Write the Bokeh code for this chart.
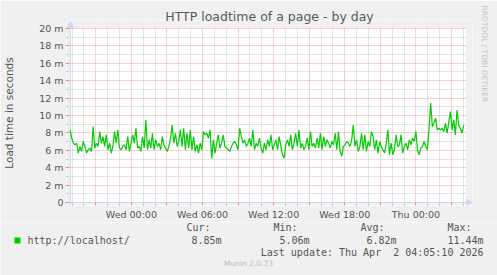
from bokeh.plotting import figure
from bokeh.layouts import column, row
from bokeh.models import FixedTicker, Label, Range1d, Title
from bokeh.embed import file_html
from bokeh.resources import INLINE

# ---------------- data ----------------
title = "HTTP loadtime of a page - by day"
y_label = "Load time in seconds"
series_name = "http://localhost/"
start_hour = -5.17          # first sample, hours relative to Wed 00:00
step_hours = 5 / 36         # sample spacing in hours
load_ms = [
    8.34, 7.39, 6.82, 6.63, 6.82, 5.68, 6.44, 5.87, 7.01, 6.44,
    5.68, 6.06, 6.25, 5.87, 8.72, 6.25, 6.82, 6.44, 8.15, 6.82,
    7.58, 6.44, 7.77, 6.06, 6.82, 5.68, 6.44, 8.15, 6.82, 8.34,
    6.25, 6.06, 6.44, 6.63, 6.06, 7.58, 5.87, 6.82, 7.77, 6.82,
    8.53, 6.25, 6.44, 5.87, 7.58, 6.25, 9.49, 6.06, 7.20, 6.25,
    7.96, 6.06, 7.20, 6.44, 6.82, 6.06, 7.58, 6.63, 6.25, 5.87,
    6.44, 7.39, 8.91, 6.82, 7.96, 6.44, 7.01, 8.34, 6.44, 8.53,
    6.06, 7.96, 6.25, 8.34, 6.06, 7.58, 5.87, 6.63, 5.68, 6.82,
    6.06, 8.15, 7.77, 7.96, 7.39, 8.34, 5.06, 7.20, 5.68, 6.82,
    7.77, 6.25, 6.82, 7.77, 6.44, 6.25, 6.06, 5.87, 6.44, 6.82,
    7.01, 6.63, 6.06, 8.53, 7.58, 6.82, 7.20, 6.44, 6.82, 7.39,
    6.44, 8.34, 6.06, 6.82, 6.44, 7.39, 6.25, 5.68, 6.82, 6.06,
    7.20, 6.44, 7.77, 6.06, 6.63, 7.20, 6.06, 7.58, 6.44, 5.49,
    5.10, 6.63, 7.20, 6.44, 7.77, 6.06, 6.82, 7.96, 6.44, 8.34,
    6.25, 6.82, 6.06, 6.44, 7.39, 6.06, 8.15, 6.44, 6.82, 6.25,
    7.39, 6.25, 7.96, 6.06, 7.58, 6.44, 7.20, 6.82, 6.25, 7.01,
    6.63, 7.96, 6.06, 8.15, 5.87, 5.30, 6.44, 6.63, 7.01, 6.82,
    6.44, 7.20, 8.91, 6.44, 7.20, 5.87, 6.44, 7.96, 6.06, 7.77,
    5.87, 7.01, 6.44, 8.15, 7.58, 6.06, 7.20, 5.68, 7.01, 6.44,
    6.06, 5.68, 6.82, 8.34, 5.49, 6.82, 5.49, 6.06, 7.77, 6.44,
    6.63, 7.77, 5.68, 6.44, 6.82, 6.06, 7.20, 6.63, 7.39, 7.01,
    8.15, 6.06, 5.49, 6.25, 6.44, 7.01, 6.44, 6.06, 8.53, 11.44,
    8.72, 9.11, 9.68, 8.34, 8.53, 8.34, 8.53, 8.15, 9.11, 7.96,
    9.30, 10.44, 8.34, 9.49, 7.77, 10.63, 8.91, 8.53, 7.96, 8.85,
]
x_label_hours = [0, 6, 12, 18, 24]
x_labels = ["Wed 00:00", "Wed 06:00", "Wed 12:00", "Wed 18:00", "Thu 00:00"]
y_major = [0, 2, 4, 6, 8, 10, 12, 14, 16, 18, 20]
y_labels = ["0", "2 m", "4 m", "6 m", "8 m", "10 m", "12 m", "14 m", "16 m", "18 m", "20 m"]
stat_names = ["Cur:", "Min:", "Avg:", "Max:"]
stat_values = ["8.85m", "5.06m", "6.82m", "11.44m"]
last_update = "Last update: Thu Apr \u00a02 04:05:10 2026"
watermark = "RRDTOOL / TOBI OETIKER"
footer = "Munin 2.0.73"

hours = [start_hour + i * step_hours for i in range(len(load_ms))]

# ---------------- styles / geometry ----------------
FONT = "DejaVu Sans"
MONO = "DejaVu Sans Mono"
TXT = "#555555"
BG = "#F0F0F0"
AXIS = "#CFD6F8"
W, H_MAIN, H_LEG = 497, 222, 53
PX_PER_H = 12.0        # x pixels per hour
PX_PER_MS = 8.75       # y pixels per millisecond
X0, X1 = -5.14, 28.19  # visible chart time span (hours)
Y0, Y1 = 0, 20         # visible chart value span
PAD_L, PAD_R, PAD_T, PAD_B = 4, 7, 8, 3   # extra frame room (px) for the axis arrows
xs0, xs1 = X0 - PAD_L / PX_PER_H, X1 + PAD_R / PX_PER_H
ys0, ys1 = Y0 - PAD_B / PX_PER_MS, Y1 + PAD_T / PX_PER_MS
ex, ey = 0.5 / PX_PER_H, 0.5 / PX_PER_MS

# ---------------- main chart ----------------
p = figure(width=W, height=H_MAIN, output_backend="svg", toolbar_location=None,
           x_range=Range1d(xs0, xs1), y_range=Range1d(ys0, ys1),
           min_border_left=67 - PAD_L, min_border_right=30 - PAD_R,
           min_border_top=28 - PAD_T, min_border_bottom=19 - PAD_B)
p.background_fill_color = "#FFFFFF"
p.border_fill_color = BG
p.outline_line_color = None

p.title.text = title
p.title.align = "center"
p.title.offset = -19 + (PAD_R - PAD_L) / 2
p.title.standoff = 2 - PAD_T
p.title.text_font = FONT
p.title.text_font_size = "12.5px"
p.title.text_font_style = "normal"
p.title.text_color = "#5a5a5a"

x_major = list(range(-3, 28, 3))
x_minor = [h for h in range(-5, 29) if h % 3 != 0]
p.xaxis.ticker = FixedTicker(ticks=x_major, minor_ticks=x_minor)
overrides = {h: "" for h in x_major}
for h, lab in zip(x_label_hours, x_labels):
    overrides[h] = lab
p.xaxis.major_label_overrides = overrides

y_minor = [v for v in range(1, 20, 2)]
p.yaxis.ticker = FixedTicker(ticks=y_major, minor_ticks=y_minor)
p.yaxis.major_label_overrides = dict(zip(y_major, y_labels))

for ax in (p.xaxis[0], p.yaxis[0]):
    ax.axis_line_color = None
    ax.major_tick_line_color = "#E39090"
    ax.minor_tick_line_color = "#BBBBBB"
    ax.major_label_text_font = FONT
    ax.major_label_text_font_size = "9.5px"
    ax.major_label_text_color = TXT
p.xaxis.major_tick_in, p.xaxis.major_tick_out = 3, 0
p.xaxis.minor_tick_in, p.xaxis.minor_tick_out = 2, 0
p.yaxis.major_tick_in, p.yaxis.major_tick_out = 3, 1
p.yaxis.minor_tick_in, p.yaxis.minor_tick_out = 2, 0
p.xaxis.major_label_standoff = 3
p.yaxis.major_label_standoff = 2
p.yaxis.axis_label = y_label
p.yaxis.axis_label_text_font = FONT
p.yaxis.axis_label_text_font_size = "10.5px"
p.yaxis.axis_label_text_font_style = "normal"
p.yaxis.axis_label_text_color = TXT
p.yaxis.axis_label_standoff = 21

for g in (p.xgrid[0], p.ygrid[0]):
    g.grid_line_color = "#E8A0A0"
    g.grid_line_dash = "1 1"
    g.grid_line_width = 1
    g.minor_grid_line_color = "#C8C8C8"
    g.minor_grid_line_dash = "1 1"
    g.minor_grid_line_width = 1

# background strips around the chart area (hide grid where the arrows live)
p.quad(left=[xs0, xs0, xs0, X1 + ex], right=[xs1, xs1, X0 - ex, xs1],
       bottom=[Y1 + ey, ys0, ys0, ys0], top=[ys1, Y0 - ey, ys1, ys1],
       fill_color=BG, line_color=None)

# axes with arrows (rrdtool style)
p.segment(x0=[X0, X0 - 2 / PX_PER_H], y0=[Y0 - 2 / PX_PER_MS, Y0],
          x1=[X0, X1 + 1 / PX_PER_H], y1=[Y1 + 1 / PX_PER_MS, Y0], line_color=AXIS, line_width=1)
p.patches(xs=[[X0 - 3 / PX_PER_H, X0 + 3 / PX_PER_H, X0],
              [X1 + 1 / PX_PER_H, X1 + 1 / PX_PER_H, X1 + 7 / PX_PER_H]],
          ys=[[Y1 + 1 / PX_PER_MS, Y1 + 1 / PX_PER_MS, Y1 + 7 / PX_PER_MS],
              [Y0 + 3 / PX_PER_MS, Y0 - 3 / PX_PER_MS, Y0]],
          fill_color=AXIS, line_color=AXIS)

p.line(hours, load_ms, line_color="#00CC00", line_width=1.2)

p.add_layout(Title(text=watermark, align="left", offset=-23 + PAD_T, standoff=21 - PAD_R, text_font=FONT,
                   text_font_size="7.5px", text_font_style="normal", text_color="#C4C4C4"), "right")

# ---------------- legend strip ----------------
lg = figure(width=W, height=H_LEG, output_backend="svg", toolbar_location=None,
            x_range=Range1d(0, W), y_range=Range1d(H_MAIN + H_LEG, H_MAIN),
            x_axis_type=None, y_axis_type=None,
            min_border=0, min_border_left=0, min_border_right=0, min_border_top=0, min_border_bottom=0)
lg.background_fill_color = BG
lg.border_fill_color = BG
lg.outline_line_color = None
lg.grid.visible = False


def lab(x, y, text, font=MONO, size="10px", color=TXT, align="left"):
    lg.add_layout(Label(x=x, y=y, text=text, text_font=font, text_font_size=size,
                        text_color=color, text_align=align, text_baseline="middle"))


lg.quad(left=[14], right=[20], top=[237], bottom=[243], fill_color="#00CC00", line_color=None)
lab(27, 240, series_name)
name_left = [186, 273, 360, 447]
value_right = [221, 309, 396, 483]
for nl, vr, n, v in zip(name_left, value_right, stat_names, stat_values):
    lab(nl, 227, n)
    lab(vr, 240, v, align="right")
lab(483, 252, last_update, align="right")
lab(248, 263, footer, font=FONT, size="7.5px", color="#BDBDBD", align="center")

layout = column(p, row(lg, spacing=0), spacing=0)
open("out.html", "w").write(file_html(layout, INLINE))
